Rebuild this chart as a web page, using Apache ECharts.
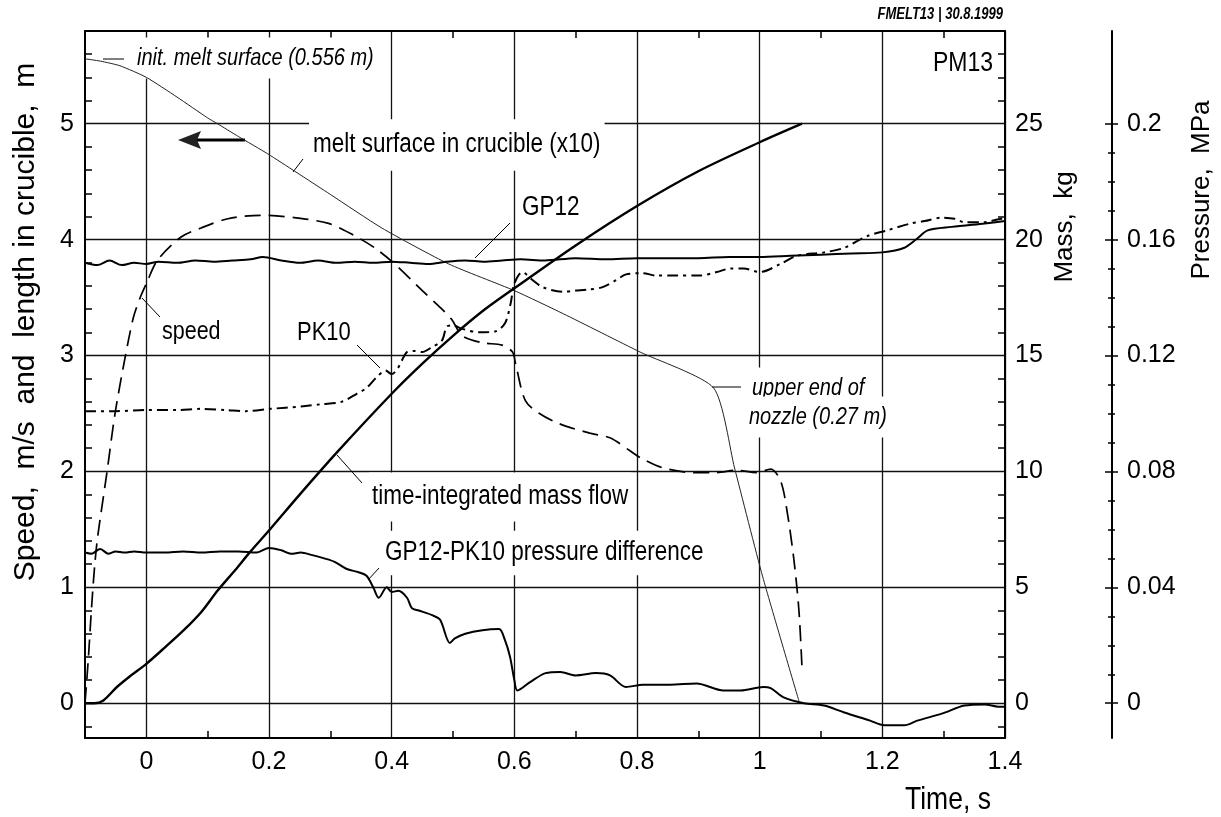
<!DOCTYPE html>
<html><head><meta charset="utf-8">
<script src="https://cdn.jsdelivr.net/npm/echarts@6/dist/echarts.min.js"></script>
<style>html,body{margin:0;padding:0;background:#fff}#c{width:1221px;height:817px}</style>
</head><body><div id="c"></div>
<script>
// ---------- tick values ----------
const xMajor = [0, 0.2, 0.4, 0.6, 0.8, 1, 1.2, 1.4];
const xMinor = [0.1, 0.3, 0.5, 0.7, 0.9, 1.1, 1.3];
const yMajor = [0, 1, 2, 3, 4, 5];
const yMinor = [-0.2, 0.2, 0.4, 0.6, 0.8, 1.2, 1.4, 1.6, 1.8, 2.2, 2.4, 2.6, 2.8, 3.2, 3.4, 3.6, 3.8, 4.2, 4.4, 4.6, 4.8, 5.2, 5.4, 5.6];
const massLabels = [0, 5, 10, 15, 20, 25];
const massTicks = [-1, 1, 2, 3, 4, 6, 7, 8, 9, 11, 12, 13, 14, 16, 17, 18, 19, 21, 22, 23, 24, 26, 27, 28];
const pMajor = [0, 0.04, 0.08, 0.12, 0.16, 0.2];
const pMinor = [0.01, 0.02, 0.03, 0.05, 0.06, 0.07, 0.09, 0.1, 0.11, 0.13, 0.14, 0.15, 0.17, 0.18, 0.19];

// ---------- melt surface in crucible (x10), m ----------
const meltT = [-0.1, -0.075, -0.043, 0, 0.05, 0.1, 0.116, 0.15, 0.198, 0.3, 0.384, 0.493, 0.6, 0.68, 0.805, 0.925, 0.959, 1.005, 1.064];
const meltV = [5.56, 5.54, 5.50, 5.40, 5.23, 5.05, 5.0, 4.89, 4.74, 4.39, 4.10, 3.79, 3.56, 3.36, 3.03, 2.72, 2.03, 1.09, 0.02];

// ---------- speed, m/s ----------
const speedT = [-0.1, -0.095, -0.089, -0.084, -0.079, -0.064, -0.051, -0.034, -0.021, -0.01, 0, 0.018, 0.056, 0.089, 0.133, 0.187, 0.241, 0.297, 0.334, 0.372, 0.405, 0.444, 0.482, 0.498, 0.515, 0.548, 0.58, 0.597, 0.602, 0.618, 0.641, 0.674, 0.723, 0.756, 0.788, 0.805, 0.843, 0.892, 0.93, 0.962, 0.995, 1.018, 1.034, 1.044, 1.056, 1.064, 1.069];
const speedV = [0, 0.35, 0.85, 1.2, 1.45, 2.0, 2.5, 3.0, 3.33, 3.5, 3.62, 3.82, 4.02, 4.1, 4.18, 4.21, 4.19, 4.14, 4.05, 3.93, 3.79, 3.59, 3.40, 3.31, 3.17, 3.11, 3.09, 3.03, 2.93, 2.61, 2.5, 2.41, 2.33, 2.29, 2.18, 2.12, 2.03, 1.99, 1.99, 2.01, 1.99, 2.02, 1.92, 1.68, 1.23, 0.80, 0.31];

// ---------- time-integrated mass flow, kg ----------
const massT = [-0.1, -0.085, -0.07, -0.048, -0.025, 0, 0.03, 0.061, 0.09, 0.116, 0.145, 0.17, 0.2, 0.25, 0.31, 0.4, 0.45, 0.5, 0.55, 0.6, 0.7, 0.8, 0.9, 1.0, 1.069];
const massV = [0, 0, 0.12, 0.7, 1.2, 1.7, 2.4, 3.15, 3.95, 4.85, 5.75, 6.55, 7.45, 9.0, 10.8, 13.35, 14.65, 15.85, 16.95, 17.9, 19.75, 21.45, 22.95, 24.2, 25.0];

// ---------- GP12 pressure, MPa ----------
const gpT = [-0.1, -0.08, -0.06, -0.04, -0.02, 0, 0.02, 0.05, 0.08, 0.11, 0.14, 0.17, 0.19, 0.22, 0.25, 0.28, 0.31, 0.34, 0.37, 0.40, 0.43, 0.46, 0.49, 0.52, 0.55, 0.58, 0.61, 0.65, 0.70, 0.75, 0.80, 0.85, 0.90, 0.95, 1.0, 1.05, 1.10, 1.15, 1.20, 1.236, 1.257, 1.274, 1.313, 1.367, 1.4];
const gpV = [0.1520, 0.1512, 0.1528, 0.1512, 0.1520, 0.1516, 0.1524, 0.1520, 0.1528, 0.1524, 0.1528, 0.1532, 0.1540, 0.1528, 0.1520, 0.1528, 0.1520, 0.1524, 0.1520, 0.1524, 0.1520, 0.1516, 0.1524, 0.1528, 0.1524, 0.1528, 0.1532, 0.1528, 0.1536, 0.1532, 0.1536, 0.1536, 0.1536, 0.1540, 0.1540, 0.1544, 0.1548, 0.1552, 0.1556, 0.1572, 0.1604, 0.1632, 0.1644, 0.1656, 0.1664];

// ---------- PK10 pressure, MPa ----------
const pkT = [-0.1, -0.05, 0, 0.05, 0.089, 0.13, 0.162, 0.203, 0.252, 0.285, 0.318, 0.343, 0.359, 0.375, 0.39, 0.40, 0.41, 0.425, 0.436, 0.45, 0.465, 0.482, 0.49, 0.50, 0.515, 0.543, 0.57, 0.585, 0.594, 0.60, 0.613, 0.63, 0.646, 0.679, 0.70, 0.723, 0.744, 0.766, 0.782, 0.81, 0.831, 0.864, 0.903, 0.93, 0.952, 0.974, 1.0, 1.034, 1.06, 1.105, 1.138, 1.175, 1.208, 1.247, 1.269, 1.297, 1.318, 1.334, 1.367, 1.395, 1.4];
const pkV = [0.1008, 0.1008, 0.1012, 0.1012, 0.1016, 0.1012, 0.1008, 0.1016, 0.1024, 0.1032, 0.1040, 0.1068, 0.1088, 0.1124, 0.1148, 0.1136, 0.1156, 0.1212, 0.1216, 0.1212, 0.1228, 0.1252, 0.1300, 0.1304, 0.1292, 0.1280, 0.1284, 0.1312, 0.1380, 0.1448, 0.1488, 0.1460, 0.1436, 0.1420, 0.1424, 0.1428, 0.1436, 0.1460, 0.1480, 0.1484, 0.1476, 0.1476, 0.1476, 0.1488, 0.1500, 0.1500, 0.1488, 0.1516, 0.1544, 0.1556, 0.1572, 0.1612, 0.1632, 0.1656, 0.1664, 0.1676, 0.1672, 0.1660, 0.1660, 0.1672, 0.1668];

// ---------- GP12-PK10 pressure difference, MPa ----------
const dT = [-0.1, -0.09, -0.075, -0.062, -0.05, -0.035, -0.02, 0, 0.03, 0.06, 0.09, 0.12, 0.15, 0.18, 0.2, 0.22, 0.236, 0.252, 0.269, 0.29, 0.307, 0.326, 0.346, 0.359, 0.37, 0.379, 0.392, 0.40, 0.411, 0.425, 0.433, 0.444, 0.466, 0.479, 0.495, 0.503, 0.52, 0.548, 0.575, 0.585, 0.593, 0.60, 0.605, 0.625, 0.651, 0.675, 0.70, 0.733, 0.756, 0.782, 0.81, 0.854, 0.897, 0.941, 0.969, 1.006, 1.018, 1.039, 1.072, 1.105, 1.138, 1.18, 1.203, 1.236, 1.257, 1.297, 1.334, 1.367, 1.389, 1.4];
const dV = [0.0520, 0.0516, 0.0532, 0.0516, 0.0524, 0.0520, 0.0524, 0.0520, 0.0520, 0.0524, 0.0520, 0.0524, 0.0524, 0.0520, 0.0536, 0.0528, 0.0516, 0.0520, 0.0512, 0.0500, 0.0488, 0.0464, 0.0452, 0.0440, 0.0400, 0.0364, 0.0400, 0.0384, 0.0388, 0.0364, 0.0328, 0.0320, 0.0304, 0.0288, 0.0208, 0.0224, 0.0240, 0.0252, 0.0256, 0.0216, 0.0160, 0.0080, 0.0044, 0.0072, 0.0104, 0.0108, 0.0096, 0.0104, 0.0096, 0.0056, 0.0064, 0.0064, 0.0068, 0.0044, 0.0044, 0.0056, 0.0052, 0.0020, 0.0000, -0.0008, -0.0032, -0.0060, -0.0076, -0.0076, -0.0060, -0.0036, -0.0008, -0.0004, -0.0012, -0.0012];

// ---------- rendering ----------
const pairs = (t, v) => t.map((x, i) => [x, v[i]]);
const FONT = '"Liberation Sans", Arial, Helvetica, sans-serif';
const BLACK = '#000';

const X = { min: -0.1, max: 1.4 };
const Y = { min: -0.3, max: 5.8 };
const M = { min: -1.5, max: 29 };
const P = { min: -0.012, max: 0.232 };

function hiddenAxisBase(range, extra) {
  return Object.assign({
    type: 'value', min: range.min, max: range.max,
    axisLine: { show: false, onZero: false },
    axisLabel: { show: false },
    splitLine: { show: false },
  }, extra);
}
const tickLabel = { color: BLACK, fontFamily: FONT, fontSize: 25 };

const chart = echarts.init(document.getElementById('c'), null, { renderer: 'canvas' });
const option = {
  animation: false,
  backgroundColor: '#fff',
  grid: { left: 85, right: 216, top: 31, bottom: 79, containLabel: false, outerBoundsMode: 'none' },
  xAxis: [
    { type: 'value', position: 'bottom', min: X.min, max: X.max,
      axisLine: { onZero: false, lineStyle: { color: BLACK, width: 2 } },
      axisTick: { show: false, customValues: xMajor },
      axisLabel: Object.assign({ customValues: xMajor, margin: 12 }, tickLabel),
      splitLine: { show: true, lineStyle: { color: '#111', width: 1.3 } } },
    hiddenAxisBase(X, { position: 'bottom',
      axisTick: { show: true, inside: true, length: 7, customValues: xMinor, lineStyle: { color: BLACK, width: 1.5 } } }),
    hiddenAxisBase(X, { position: 'top',
      axisLine: { show: true, onZero: false, lineStyle: { color: BLACK, width: 2 } },
      axisTick: { show: true, inside: true, length: 7, customValues: xMinor, lineStyle: { color: BLACK, width: 1.5 } } })
  ],
  yAxis: [
    { type: 'value', position: 'left', min: Y.min, max: Y.max,
      axisLine: { show: true, onZero: false, lineStyle: { color: BLACK, width: 2 } },
      axisTick: { show: false, customValues: yMajor },
      axisLabel: Object.assign({ customValues: yMajor, margin: 11 }, tickLabel),
      splitLine: { show: true, lineStyle: { color: '#111', width: 1.3 } } },
    hiddenAxisBase(Y, { position: 'left',
      axisTick: { show: true, inside: true, length: 7, customValues: yMinor, lineStyle: { color: BLACK, width: 1.5 } } }),
    { type: 'value', position: 'right', min: M.min, max: M.max,
      axisLine: { show: true, onZero: false, lineStyle: { color: BLACK, width: 2 } },
      axisTick: { show: true, inside: true, length: 7, customValues: massTicks, lineStyle: { color: BLACK, width: 1.5 } },
      axisLabel: Object.assign({ customValues: massLabels, margin: 10 }, tickLabel),
      splitLine: { show: false } },
    { type: 'value', position: 'right', offset: 107, min: P.min, max: P.max,
      axisLine: { show: true, onZero: false, lineStyle: { color: BLACK, width: 2 } },
      axisTick: { show: true, inside: false, length: 6, customValues: pMajor, lineStyle: { color: BLACK, width: 1.5 } },
      axisLabel: Object.assign({ customValues: pMajor, margin: 15 }, tickLabel),
      splitLine: { show: false } },
    hiddenAxisBase(P, { position: 'right', offset: 107,
      axisTick: { show: true, inside: true, length: 7, customValues: pMajor, lineStyle: { color: BLACK, width: 1.5 } } }),
    hiddenAxisBase(P, { position: 'right', offset: 107,
      axisTick: { show: true, inside: false, length: 3, customValues: pMinor, lineStyle: { color: BLACK, width: 1.5 } } }),
    hiddenAxisBase(P, { position: 'right', offset: 107,
      axisTick: { show: true, inside: true, length: 4, customValues: pMinor, lineStyle: { color: BLACK, width: 1.5 } } })
  ],
  series: [
    { name: 'melt surface in crucible (x10)', type: 'line', xAxisIndex: 0, yAxisIndex: 0,
      data: pairs(meltT, meltV), showSymbol: false, smooth: 0.2,
      lineStyle: { color: '#222', width: 1 } },
    { name: 'speed', type: 'line', xAxisIndex: 0, yAxisIndex: 0,
      data: pairs(speedT, speedV), showSymbol: false, smooth: 0.3,
      lineStyle: { color: BLACK, width: 1.7, type: [16, 8] } },
    { name: 'time-integrated mass flow', type: 'line', xAxisIndex: 0, yAxisIndex: 2,
      data: pairs(massT, massV), showSymbol: false, smooth: 0.3,
      lineStyle: { color: BLACK, width: 2.4 } },
    { name: 'GP12', type: 'line', xAxisIndex: 0, yAxisIndex: 3,
      data: pairs(gpT, gpV), showSymbol: false, smooth: 0.3,
      lineStyle: { color: BLACK, width: 2 } },
    { name: 'PK10', type: 'line', xAxisIndex: 0, yAxisIndex: 3,
      data: pairs(pkT, pkV), showSymbol: false, smooth: 0.3,
      lineStyle: { color: BLACK, width: 2, type: [11, 5, 3, 5] } },
    { name: 'GP12-PK10 pressure difference', type: 'line', xAxisIndex: 0, yAxisIndex: 3,
      data: pairs(dT, dV), showSymbol: false, smooth: 0.3,
      lineStyle: { color: BLACK, width: 2 } }
  ],
  graphic: { elements: [] }
};

// text labels: Arial-metric font, stretched vertically like the scanned original
function label(text, x, y, o) {
  o = o || {};
  return {
    type: 'text', x: x, y: y, z: o.z == null ? 1 : o.z, rotation: o.rot || 0,
    scaleX: o.sx || 1, scaleY: o.sy || 1,
    style: {
      text: text, fill: BLACK,
      fontFamily: FONT, fontSize: o.size || 22.5,
      fontStyle: o.style || 'normal', fontWeight: o.weight || 'normal',
      align: o.align || 'left', verticalAlign: 'middle',
      backgroundColor: o.bg ? '#fff' : null, padding: o.bg ? o.pad || [6, 5] : 0
    }
  };
}
function seg(x1, y1, x2, y2, w) {
  return { type: 'line', z: 3, shape: { x1, y1, x2, y2 }, style: { stroke: BLACK, lineWidth: w || 1 } };
}
const H = 1.2; // vertical stretch of horizontal lettering
const els = option.graphic.elements;
els.push(
  label('init. melt surface (0.556 m)', 134, 58, { size: 20, sy: H, style: 'italic', bg: true, pad: [7, 3] }),
  seg(103, 59, 124, 59),
  label('melt surface in crucible (x10)', 309, 145, { sy: H, bg: true, pad: [10, 4] }),
  seg(303, 159, 293, 172),
  label('GP12', 516, 208, { sy: H, bg: true, pad: [10, 6] }),
  seg(510, 223, 475, 258),
  label('speed', 162, 332, { size: 21.5, sy: H }),
  seg(160, 317, 142, 298),
  label('PK10', 297, 333, { size: 22, sy: H }),
  seg(357, 345, 380, 368),
  label('time-integrated mass flow', 369, 497, { sy: H, bg: true, pad: [9, 3] }),
  seg(362, 483, 337, 455),
  label('GP12-PK10 pressure difference', 382, 553, { sy: H, bg: true, pad: [7, 3] }),
  seg(379, 568, 368, 580),
  label('upper end of', 749, 388, { size: 20, sy: H, style: 'italic', bg: true, pad: [12, 3, 2, 3] }),
  label('nozzle (0.27 m)', 746, 417, { size: 20, sy: H, style: 'italic', bg: true, pad: [2, 3, 12, 3] }),
  seg(712, 387, 741, 387),
  label('PM13', 993, 63, { size: 23, sy: H, align: 'right' }),
  label('FMELT13 | 30.8.1999', 1003, 15, { size: 13, sy: H, style: 'italic', weight: 'bold', align: 'right' }),
  label('Time, s', 905, 800, { size: 26.5, sy: H }),
  label('Speed,  m/s  and  length in crucible,  m', 26, 322, { size: 30, rot: Math.PI / 2, align: 'center' }),
  label('Mass,  kg', 1065, 227, { size: 26, rot: Math.PI / 2, align: 'center' }),
  label('Pressure,  MPa', 1202, 190, { size: 26, rot: Math.PI / 2, align: 'center' }),
  { type: 'polygon', z: 3, shape: { points: [[178, 140], [201, 131], [197, 140], [201, 149]] }, style: { fill: '#222' } },
  seg(197, 140, 245, 140, 3)
);

chart.setOption(option);
</script></body></html>
